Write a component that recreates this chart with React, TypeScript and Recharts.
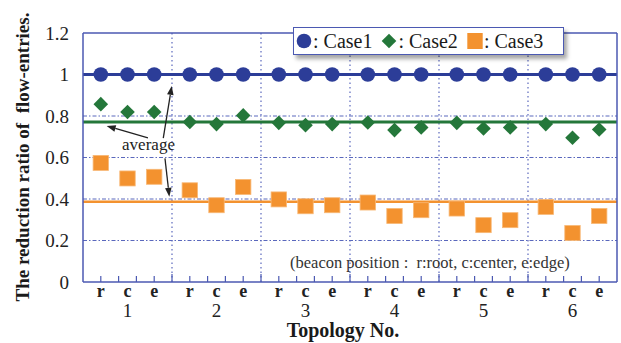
import React from 'react';
import {
  ScatterChart, Scatter, XAxis, YAxis,
  ReferenceLine, ReferenceDot, Legend,
} from 'recharts';

// categories
const TOPOLOGIES = ['1', '2', '3', '4', '5', '6'];
const POSITIONS = ['r', 'c', 'e'];
const POSITION_OFFSETS = [0.2, 0.5, 0.8];
const SERIES_NAMES = ['Case1', 'Case2', 'Case3'];

// reduction ratio per topology (r, c, e)
const CASE1 = [1, 1, 1, 1, 1, 1, 1, 1, 1, 1, 1, 1, 1, 1, 1, 1, 1, 1];
const CASE2 = [0.857, 0.819, 0.819, 0.771, 0.761, 0.803, 0.767, 0.756, 0.761, 0.769, 0.732, 0.745, 0.767, 0.74, 0.745, 0.761, 0.695, 0.735];
const CASE3 = [0.574, 0.499, 0.507, 0.442, 0.37, 0.458, 0.398, 0.365, 0.37, 0.383, 0.318, 0.346, 0.354, 0.274, 0.298, 0.362, 0.236, 0.318];
const AVERAGES = [1.0, 0.771, 0.387];

const Y_TICKS = [0, 0.2, 0.4, 0.6, 0.8, 1, 1.2];
const Y_GRID = [0.2, 0.4, 0.6, 0.8];

// annotations (data coordinates)
const AVERAGE_TEXT = { text: 'average', x: 0.736, y: 0.636 };
const NOTE_TEXT = { text: '(beacon position :  r:root, c:center, e:edge)', x: 2.326, y: 0.067 };
const ARROWS = [
  { from: [0.73, 0.694], to: [0.266, 0.752] },
  { from: [0.902, 0.693], to: [0.997, 0.945] },
  { from: [0.921, 0.596], to: [0.97, 0.411] },
];

const COLORS = ['#2c3d98', '#24773a', '#f3922f'];
const AXIS = '#4b59b2';
const GRID = '#5a68bd';
const SERIF = 'Liberation Serif, DejaVu Serif, Times New Roman, serif';

const toPoints = (vals: number[]) =>
  vals.map((y, i) => ({ x: Math.floor(i / 3) + POSITION_OFFSETS[i % 3], y }));

const round1 = (v: number) => Math.round(v * 10) / 10;
const MINOR_TICKS: number[] = [];
for (let g = 1; g < TOPOLOGIES.length * 5; g++) MINOR_TICKS.push(round1(g * 0.2));
const LABEL_TICKS: number[] = [];
TOPOLOGIES.forEach((_, g) => POSITION_OFFSETS.forEach((o) => LABEL_TICKS.push(round1(g + o))));
const BOTTOM_TICKS = Array.from(new Set([...MINOR_TICKS, ...LABEL_TICKS])).sort((a, b) => a - b);

const Circle = (p: any) => <circle cx={p.cx} cy={p.cy} r={7.3} fill={COLORS[0]} />;
const Diamond = (p: any) => (
  <polygon
    points={`${p.cx},${p.cy - 7.3} ${p.cx + 7.3},${p.cy} ${p.cx},${p.cy + 7.3} ${p.cx - 7.3},${p.cy}`}
    fill={COLORS[1]}
  />
);
const Square = (p: any) => (
  <rect x={p.cx - 7.7} y={p.cy - 7.5} width={15.4} height={15} fill={COLORS[2]} stroke="#f8b876" strokeWidth={0.8} />
);

const isBoundary = (v: number) => Math.abs(v - Math.round(v)) < 1e-6;

const TopTick = ({ x, y, payload }: any) => (
  <line x1={x} x2={x} y1={y} y2={y + (isBoundary(payload.value) ? 8 : 6)} stroke={AXIS} strokeWidth={1.2} />
);

const RightTick = ({ x, y, payload }: any) =>
  payload.value > 0 && payload.value < 1.2 ? (
    <line x1={x} x2={x - 7} y1={y} y2={y} stroke={AXIS} strokeWidth={1.2} />
  ) : <g />;

const BottomTick = ({ x, y, payload }: any) => {
  const v = payload.value;
  const g = Math.floor(v + 1e-6);
  const f = Math.round((v - g) * 10);
  const pi = POSITION_OFFSETS.findIndex((o) => Math.round(o * 10) === f);
  return (
    <g>
      {f % 2 === 0 && v > 0 && v < TOPOLOGIES.length && (
        <line x1={x} x2={x} y1={y} y2={y - (f === 0 ? 8 : 6)} stroke={AXIS} strokeWidth={1.2} />
      )}
      {pi >= 0 && g < TOPOLOGIES.length && (
        <text x={x} y={y + 15} textAnchor="middle" style={{ fontFamily: SERIF }} fontWeight="bold" fontSize={18} fill="#222">
          {POSITIONS[pi]}
        </text>
      )}
      {pi === 1 && g < TOPOLOGIES.length && (
        <text x={x} y={y + 35} textAnchor="middle" style={{ fontFamily: SERIF }} fontSize={19} fill="#222">
          {TOPOLOGIES[g]}
        </text>
      )}
    </g>
  );
};

const ArrowShape = (p: any) => {
  const { x1, y1, x2, y2 } = p;
  const a = Math.atan2(y2 - y1, x2 - x1);
  const L = 9, W = 3.3;
  const bx = x2 - L * Math.cos(a), by = y2 - L * Math.sin(a);
  const pts = `${x2},${y2} ${bx - W * Math.sin(a)},${by + W * Math.cos(a)} ${bx + W * Math.sin(a)},${by - W * Math.cos(a)}`;
  return (
    <g>
      <line x1={x1} y1={y1} x2={bx} y2={by} stroke="#222" strokeWidth={1.3} />
      <polygon points={pts} fill="#222" />
    </g>
  );
};

const LegendBox = () => {
  const markers = [
    <circle cx={8} cy={8} r={7.3} fill={COLORS[0]} />,
    <polygon points="8,0.7 15.3,8 8,15.3 0.7,8" fill={COLORS[1]} />,
    <rect x={0.3} y={0} width={15.4} height={16} fill={COLORS[2]} />,
  ];
  return (
    <div style={{
      display: 'flex', alignItems: 'center', background: '#fff',
      border: `1.5px solid ${AXIS}`, boxShadow: '3px 4px 4px rgba(0,0,0,0.35)',
      height: 26, padding: '0 0 0 2px', width: 267, boxSizing: 'content-box',
      fontFamily: SERIF, fontSize: 20, color: '#1a1a1a', whiteSpace: 'pre',
    }}>
      {SERIES_NAMES.map((name, i) => (
        <span key={name} style={{ display: 'flex', alignItems: 'center', marginRight: i < 2 ? 9 : 0 }}>
          <svg width={16} height={16} style={{ marginRight: 1 }}>{markers[i]}</svg>
          <span>{': ' + name}</span>
        </span>
      ))}
    </div>
  );
};

export default function App() {
  return (
    <div style={{ width: 621, height: 343, background: '#fff', fontFamily: SERIF }}>
      <style>{'body{margin:0}'}</style>
      <ScatterChart width={621} height={343} margin={{ top: 32, right: 3, bottom: 0, left: 0 }}>
        <XAxis
          dataKey="x"
          type="number"
          domain={[0, 6]}
          ticks={BOTTOM_TICKS}
          interval={0}
          height={61}
          tickSize={0}
          tickMargin={0}
          tickLine={false}
          tick={<BottomTick />}
          axisLine={{ stroke: AXIS, strokeWidth: 1.5 }}
          label={{
            content: () => (
              <text x={343} y={337} textAnchor="middle" style={{ fontFamily: SERIF }} fontWeight="bold" fontSize={20} fill="#1a1a1a">
                Topology No.
              </text>
            ),
          }}
        />
        <XAxis
          xAxisId="top"
          orientation="top"
          type="number"
          domain={[0, 6]}
          ticks={MINOR_TICKS}
          interval={0}
          height={1}
          tickSize={0}
          tickMargin={0}
          tickLine={false}
          tick={<TopTick />}
          axisLine={{ stroke: AXIS, strokeWidth: 1.5 }}
        />
        <YAxis
          dataKey="y"
          type="number"
          domain={[0, 1.2]}
          ticks={Y_TICKS}
          interval={0}
          width={83}
          tickSize={0}
          tickMargin={14}
          tickLine={false}
          tickFormatter={(v: number) => String(v)}
          tick={{ fill: '#222', fontSize: 19, style: { fontFamily: SERIF } }}
          axisLine={{ stroke: AXIS, strokeWidth: 1.5 }}
          label={{
            content: () => (
              <text
                transform="translate(29,157) rotate(-90)"
                textAnchor="middle"
                fontWeight="bold"
                fontSize={19}
                fill="#1a1a1a"
                style={{ whiteSpace: 'pre', fontFamily: SERIF }}
              >
                The reduction ratio of  flow-entries.
              </text>
            ),
          }}
        />
        <YAxis
          yAxisId="right"
          orientation="right"
          type="number"
          domain={[0, 1.2]}
          ticks={Y_TICKS}
          interval={0}
          width={1}
          tickSize={0}
          tickMargin={0}
          tickLine={false}
          tick={<RightTick />}
          axisLine={{ stroke: AXIS, strokeWidth: 1.5 }}
        />

        {Y_GRID.map((v) => (
          <ReferenceLine key={'h' + v} y={v} stroke={GRID} strokeWidth={1} strokeDasharray="4 2 1.5 2" />
        ))}
        {TOPOLOGIES.slice(1).map((_, i) => (
          <ReferenceLine key={'v' + i} x={i + 1} stroke={GRID} strokeWidth={1.2} strokeDasharray="1.5 3" />
        ))}

        {AVERAGES.map((v, i) => (
          <ReferenceLine key={'avg' + i} y={v} stroke={COLORS[i]} strokeWidth={i === 2 ? 2.5 : 3} />
        ))}

        <Scatter name={SERIES_NAMES[0]} data={toPoints(CASE1)} shape={Circle} isAnimationActive={false} />
        <Scatter name={SERIES_NAMES[1]} data={toPoints(CASE2)} shape={Diamond} isAnimationActive={false} />
        <Scatter name={SERIES_NAMES[2]} data={toPoints(CASE3)} shape={Square} isAnimationActive={false} />

        {ARROWS.map((a, i) => (
          <ReferenceLine
            key={'arrow' + i}
            segment={[{ x: a.from[0], y: a.from[1] }, { x: a.to[0], y: a.to[1] }]}
            shape={ArrowShape}
          />
        ))}
        <ReferenceDot
          x={AVERAGE_TEXT.x}
          y={AVERAGE_TEXT.y}
          shape={(p: any) => (
            <text x={p.cx} y={p.cy} textAnchor="middle" style={{ fontFamily: SERIF }} fontSize={17} fill="#222">
              {AVERAGE_TEXT.text}
            </text>
          )}
        />
        <ReferenceDot
          x={NOTE_TEXT.x}
          y={NOTE_TEXT.y}
          shape={(p: any) => (
            <text x={p.cx} y={p.cy} textAnchor="start" fontSize={16.5} fill="#333" style={{ whiteSpace: 'pre', fontFamily: SERIF }}>
              {NOTE_TEXT.text}
            </text>
          )}
        />

        <Legend
          layout="vertical"
          align="center"
          verticalAlign="middle"
          wrapperStyle={{ left: 293, top: 27, width: 'auto', height: 'auto' }}
          content={() => <LegendBox />}
        />
      </ScatterChart>
    </div>
  );
}
